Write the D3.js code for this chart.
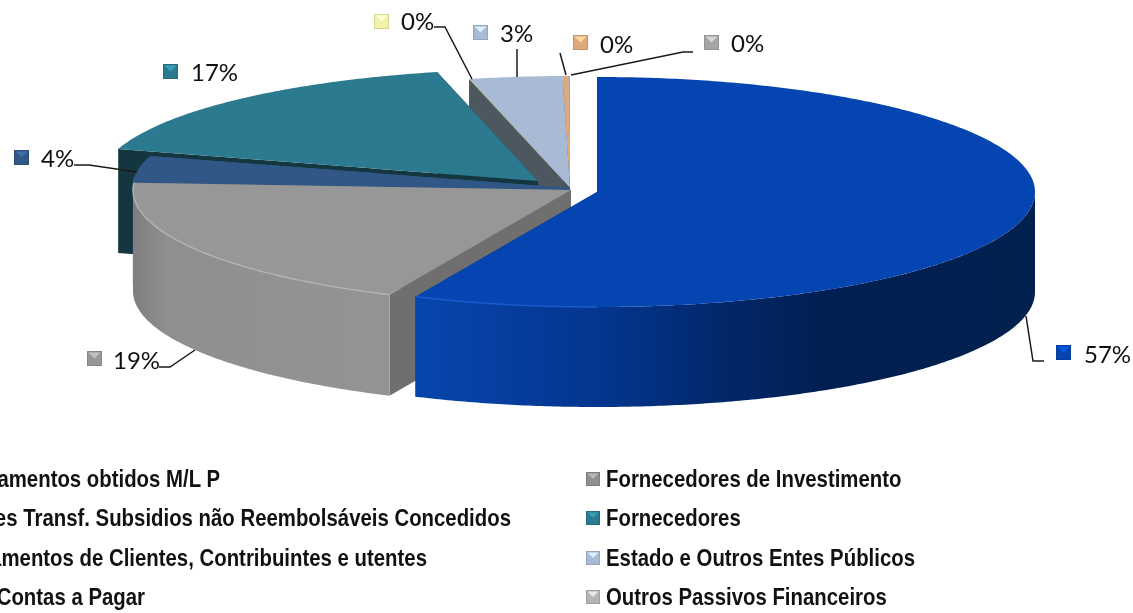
<!DOCTYPE html>
<html><head><meta charset="utf-8">
<script src="https://cdn.jsdelivr.net/npm/d3@7"></script>
<style>html,body{margin:0;padding:0;background:#fff;overflow:hidden}svg{display:block}</style>
</head><body><svg id="c" width="1133" height="613"></svg>
<script>
// DATA
const categories = ["Financiamentos obtidos M/L P","Fornecedores de Investimento","Outras Contas a Pagar","Fornecedores","Credores Transf. Subsidios não Reembolsáveis Concedidos","Estado e Outros Entes Públicos","Adiantamentos de Clientes, Contribuintes e utentes","Outros Passivos Financeiros"];
const shares = [56.8,19.2,3.6,16.7,0.03,3.4,0.2,0.07];
const labels = ["57%","19%","4%","17%","0%","3%","0%","0%"];
const legendLeft = [0,4,6,2];
const legendRight = [1,3,5,7];

// STYLE / LAYOUT
const topColors = ["#0545b2","#979797","#315786","#2c7a8f","#f3f3a8","#a9bbd4","#e0a97b","#a6a6a6"];
const faceColors = ["#032a70","#6f6f6f","#315786","#14373f","#4d5760","#4d5760","#e0a97b","#a6a6a6"];
const centers = [[597,192],[571,190],[570,188],[538,181],[570,188],[570,188],[570,188],[570,188]];
const radiiY = [115,115,112,112,112,112,112,112];
const depths = [100,101,103,104,103,103,103,103];
const rx = 438;
const drawOrder = [7,6,5,4,3,2,1,0];
const labelPos = [
 {m:[1056,345],t:[1084,354],l:[[1026,316],[1033,361],[1044,361]]},
 {m:[87,351],t:[113,360],l:[[159,367],[170,367],[195,350]]},
 {m:[14,150],t:[41,158],l:[[74,165],[89,165],[137,172]]},
 {m:[163,64],t:[191,72],l:null},
 {m:[374,14],t:[401,21],l:[[434,27],[445,27],[472,79]]},
 {m:[473,25],t:[500,33],l:[[517,49],[517,77]]},
 {m:[573,35],t:[600,44],l:[[560,53],[566,75]]},
 {m:[704,35],t:[731,43],l:[[571,75],[683,52],[693,52]]}
];

const svg = d3.select("#c");
const defs = svg.append("defs");
const root = svg.append("g").style("filter","blur(0.45px)");

// gradients for walls
const blueGrad = defs.append("linearGradient").attr("id","wall0").attr("gradientUnits","userSpaceOnUse")
  .attr("x1",416).attr("x2",1035).attr("y1",0).attr("y2",0);
[[0,"#0746ad"],[.3,"#04358f"],[.47,"#02296e"],[.67,"#011e50"],[1,"#02214f"]].forEach(s=>blueGrad.append("stop").attr("offset",s[0]).attr("stop-color",s[1]));
const grayGrad = defs.append("linearGradient").attr("id","wall1").attr("gradientUnits","userSpaceOnUse")
  .attr("x1",132).attr("x2",390).attr("y1",0).attr("y2",0);
[[0,"#7e7e7e"],[.14,"#8f8f8f"],[1,"#949494"]].forEach(s=>grayGrad.append("stop").attr("offset",s[0]).attr("stop-color",s[1]));

const pie = d3.pie().sort(null).value(d=>d);
const arcs = pie(shares);
const line = d3.line();
const pt = (i,a,dz=0)=>[centers[i][0]+rx*Math.sin(a), centers[i][1]-radiiY[i]*Math.cos(a)+dz];
const sweep = (i,a0,a1,dz=0)=>{
  const n = Math.max(2,Math.ceil(Math.abs(a1-a0)/0.01));
  return d3.range(n+1).map(k=>pt(i,a0+(a1-a0)*k/n,dz));
};

drawOrder.forEach(i=>{
  const c = centers[i], a = arcs[i], g = root.append("g"), depth = depths[i];
  [a.startAngle,a.endAngle].forEach(ang=>{
    const p = pt(i,ang);
    g.append("path").attr("d",line([c,p,[p[0],p[1]+depth],[c[0],c[1]+depth]])+"Z").attr("fill",faceColors[i]);
  });
  if(i<2){
    const s0 = Math.max(a.startAngle,Math.PI/2), s1 = Math.min(a.endAngle,3*Math.PI/2);
    g.append("path").attr("d",line(sweep(i,s0,s1).concat(sweep(i,s1,s0,depth)))+"Z").attr("fill",`url(#wall${i})`);
  }
  g.append("path").attr("d",line([c].concat(sweep(i,a.startAngle,a.endAngle)))+"Z")
   .attr("fill",topColors[i]);
  if(i===1){
    g.append("path").attr("d",line(sweep(i,a.startAngle,a.endAngle))).attr("fill","none").attr("stroke","#b4b4b4").attr("stroke-width",1.4);
  }
  if(i===0){
    g.append("path").attr("d",line(sweep(i,a.endAngle,Math.PI))).attr("fill","none").attr("stroke","#1a5cd0").attr("stroke-width",1.4);
  }
});

// marker
function marker(sel,x,y,s,col){
  const g = sel.append("g").attr("transform",`translate(${x},${y})`);
  const cc = d3.color(col);
  g.append("rect").attr("width",s).attr("height",s).attr("fill",cc.darker(.35).formatHex());
  g.append("rect").attr("x",1).attr("y",1).attr("width",s-2).attr("height",s-2).attr("fill",col);
  g.append("path").attr("d",line([[1.5,1.5],[s-1.5,1.5],[s/2,s/2]])+"Z").attr("fill",cc.brighter(.7).formatHex());
}

// data labels
labels.forEach((t,i)=>{
  const p = labelPos[i];
  marker(root,p.m[0],p.m[1],15,topColors[i]);
  root.append("text").attr("x",p.t[0]).attr("y",p.t[1]).attr("dy","0.36em")
    .attr("font-family","Lato").attr("font-size",24).attr("fill","#111").text(t);
  if(p.l) root.append("path").attr("d",line(p.l)).attr("fill","none").attr("stroke","#1a1a1a").attr("stroke-width",1.5);
});

// legend
const rowY = [479,518,558,597];
const squeeze = 0.886;
function legend(idx,mx,tx,colors,anchorEnds){
  idx.forEach((k,r)=>{
    marker(root,mx,rowY[r]-7,14,colors[r]);
    const x = anchorEnds ? anchorEnds[r] : tx;
    root.append("text")
     .attr("transform",`translate(${x},${rowY[r]}) scale(${squeeze},1)`).attr("dy","0.36em")
     .attr("text-anchor",anchorEnds ? "end" : "start")
     .attr("font-family","Liberation Sans").attr("font-weight","bold").attr("font-size",23)
     .attr("fill","#111").text(categories[k]);
  });
}
legend(legendLeft,-86,-66,["#0545b2","#f3f3a8","#e0a97b","#315786"],[220,511,427,145]);
legend(legendRight,586,606,["#8f8f8f","#2c7a8f","#a9bbd4","#b5b5b5"]);
</script></body></html>
